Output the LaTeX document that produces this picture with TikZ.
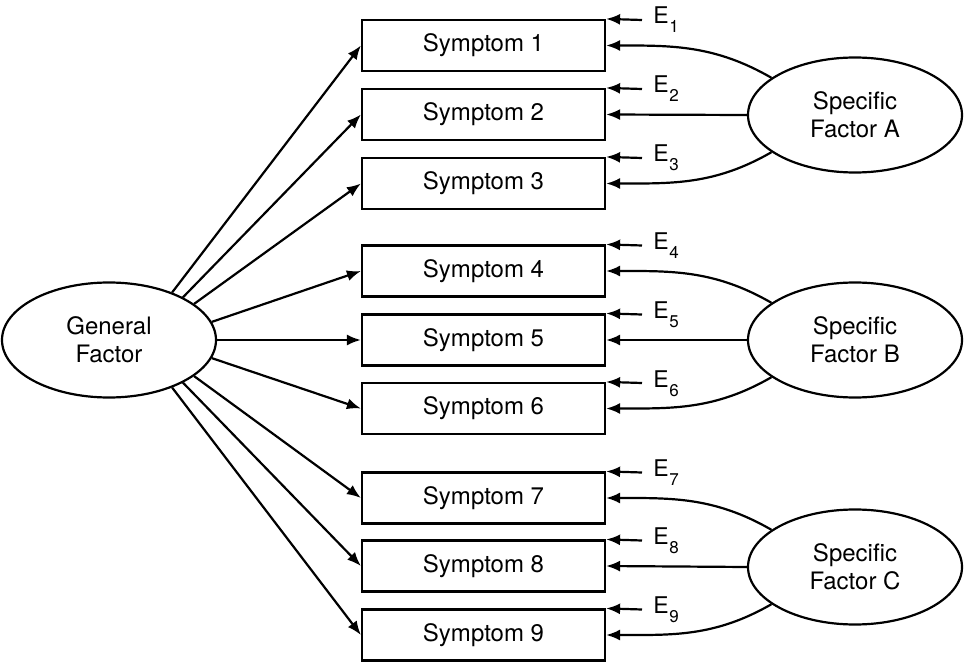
\documentclass[tikz,border=0pt]{standalone}
\usepackage{fontspec}
\setmainfont{TeX Gyre Heros}
\usetikzlibrary{shapes.geometric,arrows.meta}
\newcommand\esub[1]{E\kern0.3pt\raisebox{-4.5pt}{\fontsize{8.5}{8.5}\selectfont #1}}
\begin{document}
\begin{tikzpicture}[x=0.5pt,y=-0.5pt,
  box/.style={draw,line width=1.1pt,minimum width=121.5pt,minimum height=25.5pt,inner sep=0pt,font=\fontsize{12}{13}\selectfont},
  fac/.style={draw,ellipse,line width=1.1pt,minimum width=107pt,minimum height=57.5pt,inner sep=0pt,align=center,font=\fontsize{12}{14}\selectfont},
  arr/.style={line width=1.1pt,-{Latex[length=7pt,width=5.5pt]}},
  elab/.style={anchor=base west,inner sep=0pt,font=\fontsize{11.5}{13}\selectfont}]
\useasboundingbox (0,0) rectangle (964,663);
\foreach \i/\y in {1/45.5,2/114.5,3/183.5,4/271,5/340,6/408.5,7/498,8/566,9/635}{
  \node[box] (s\i) at (483.5,\y) {Symptom \i};
  \coordinate (t\i) at (642,\y-25.5);
  \node[elab] (e\i) at (653,\y-21.5) {\esub{\i}};
  \draw[arr] (t\i) -- (s\i.north east);
}
\node[fac] (gf) at (109,340) {General\\Factor};
\node[fac] (sa) at (855,115) {Specific\\Factor A};
\node[fac] (sb) at (855,340) {Specific\\Factor B};
\node[fac] (sc) at (855,567) {Specific\\Factor C};
\foreach \i/\a in {1/37,2/30,3/23,4/10,5/0,6/-10,7/-23,8/-30,9/-37}
  \draw[arr] (gf.\a) -- (s\i.west);
\foreach \f/\p/\q/\r in {sa/1/2/3,sb/4/5/6,sc/7/8/9}{
  \draw[arr] (\f.156) to[out=150,in=0] (s\p.east);
  \draw[arr] (\f.west) -- (s\q.east);
  \draw[arr] (\f.204) to[out=210,in=0] (s\r.east);
}
\end{tikzpicture}
\end{document}
